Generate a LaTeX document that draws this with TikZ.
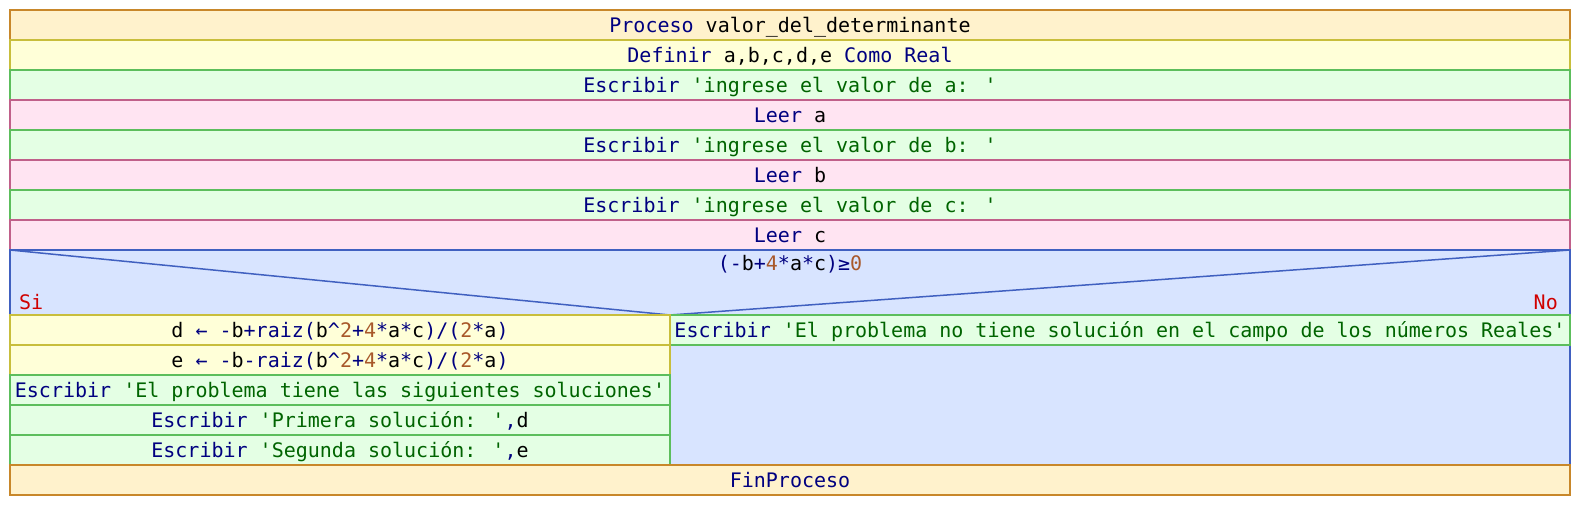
\documentclass[tikz,border=0pt]{standalone}
\usepackage{fontspec}
\newfontfamily\nsfont{DejaVu Sans Mono}
\usetikzlibrary{positioning}

\definecolor{procfill}{HTML}{FFF2CC}
\definecolor{procline}{HTML}{C8872A}
\definecolor{deffill}{HTML}{FFFFD8}
\definecolor{defline}{HTML}{C8BE3C}
\definecolor{escfill}{HTML}{E4FFE4}
\definecolor{escline}{HTML}{5CBE5C}
\definecolor{leerfill}{HTML}{FFE4F2}
\definecolor{leerline}{HTML}{C0608A}
\definecolor{condfill}{HTML}{D8E4FF}
\definecolor{condline}{HTML}{4060C0}
\definecolor{kwcol}{HTML}{000080}
\definecolor{strcol}{HTML}{006400}
\definecolor{numcol}{HTML}{A8582A}
\definecolor{sinocol}{HTML}{D00000}

\newcommand{\pkw}[1]{\textcolor{kwcol}{#1}}
\newcommand{\pstr}[1]{\textcolor{strcol}{#1}}
\newcommand{\pnum}[1]{\textcolor{numcol}{#1}}

\begin{document}
\begin{tikzpicture}[
    x=1pt, y=-1pt,
    nsrow/.style={draw, line width=1.5pt, outer sep=0pt, inner sep=0pt,
        minimum height=30pt, text height=15pt, text depth=1pt,
        font=\nsfont\fontsize{20}{24}\selectfont},
    procbox/.style={nsrow, fill=procfill, draw=procline, minimum width=1560pt},
    defbox/.style={nsrow, fill=deffill, draw=defline, minimum width=1560pt},
    escbox/.style={nsrow, fill=escfill, draw=escline, minimum width=1560pt},
    leerbox/.style={nsrow, fill=leerfill, draw=leerline, minimum width=1560pt},
    asigbox/.style={nsrow, fill=deffill, draw=defline, minimum width=660pt},
    escleft/.style={nsrow, fill=escfill, draw=escline, minimum width=660pt},
    condbox/.style={draw=condline, fill=condfill, line width=1.5pt, outer sep=0pt, inner sep=0pt},
    sino/.style={inner sep=0pt, text=sinocol, font=\nsfont\fontsize{20}{24}\selectfont}
]
\useasboundingbox (0,0) rectangle (1580,506);

% ---- Sequence ----
\node[procbox] (proc) at (790,25) {\pkw{Proceso} valor\textunderscore del\textunderscore determinante};
\node[defbox, below=0pt of proc] (defn) {\pkw{Definir} a,b,c,d,e \pkw{Como Real}};
\node[escbox, below=0pt of defn] (esca) {\pkw{Escribir} \pstr{'ingrese el valor de a: '}};
\node[leerbox, below=0pt of esca] (leera) {\pkw{Leer} a};
\node[escbox, below=0pt of leera] (escb) {\pkw{Escribir} \pstr{'ingrese el valor de b: '}};
\node[leerbox, below=0pt of escb] (leerb) {\pkw{Leer} b};
\node[escbox, below=0pt of leerb] (escc) {\pkw{Escribir} \pstr{'ingrese el valor de c: '}};
\node[leerbox, below=0pt of escc] (leerc) {\pkw{Leer} c};

% ---- Condition ----
\node[condbox, minimum width=1560pt, minimum height=65pt, below=0pt of leerc] (cond) {};
\coordinate (apex) at (670,315);
\draw[condline, line width=1.5pt] (cond.north west) -- (apex) -- (cond.north east);
\node[nsrow, draw=none, minimum height=0pt, anchor=base] (condtxt) at (790,270)
    {\pkw{(-}b\pkw{+}\pnum{4}\pkw{*}a\pkw{*}c\pkw{)≥}\pnum{0}};
\node[sino, anchor=base west] (si) at (19,309) {Si};
\node[sino, anchor=base east] (no) at (1558,309) {No};

% ---- No branch ----
\node[condbox, minimum width=900pt, minimum height=150pt, anchor=north east] (vacio) at (cond.south east) {};
\node[nsrow, fill=escfill, draw=escline, minimum width=900pt, anchor=north east] (sinsol)
    at (cond.south east) {\pkw{Escribir} \pstr{'El problema no tiene solución en el campo de los números Reales'}};

% ---- Si branch ----
\node[asigbox, anchor=north west] (asigd) at (cond.south west)
    {d \pkw{← -}b\pkw{+raiz(}b\pkw{\textasciicircum}\pnum{2}\pkw{+}\pnum{4}\pkw{*}a\pkw{*}c\pkw{)/(}\pnum{2}\pkw{*}a\pkw{)}};
\node[asigbox, below=0pt of asigd] (asige)
    {e \pkw{← -}b\pkw{-raiz(}b\pkw{\textasciicircum}\pnum{2}\pkw{+}\pnum{4}\pkw{*}a\pkw{*}c\pkw{)/(}\pnum{2}\pkw{*}a\pkw{)}};
\node[escleft, below=0pt of asige] (escsol) {\pkw{Escribir} \pstr{'El problema tiene las siguientes soluciones'}};
\node[escleft, below=0pt of escsol] (escprim) {\pkw{Escribir} \pstr{'Primera solución: '}\pkw{,}d};
\node[escleft, below=0pt of escprim] (escseg) {\pkw{Escribir} \pstr{'Segunda solución: '}\pkw{,}e};

% ---- End ----
\node[procbox, anchor=north west] (fin) at (escseg.south west) {\pkw{FinProceso}};
\end{tikzpicture}
\end{document}
